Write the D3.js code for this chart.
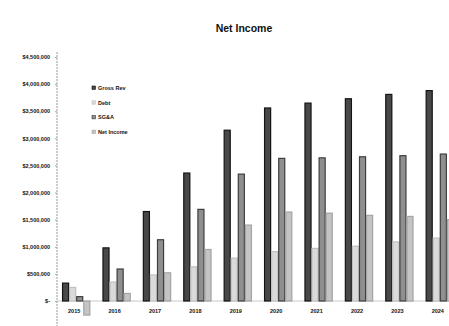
<!DOCTYPE html>
<html>
<head>
<meta charset="utf-8">
<script src="https://cdn.jsdelivr.net/npm/d3@7"></script>
<style>
  html, body { margin: 0; padding: 0; background: #fff; }
  svg { display: block; }
  text { font-family: Arial, "Liberation Sans", sans-serif; }
</style>
</head>
<body>
<svg id="chart" width="449" height="326"></svg>
<script>
// Fiscal years on the category axis
const years = ["2015", "2016", "2017", "2018", "2019", "2020", "2021", "2022", "2023", "2024"];

// Series, in dollars
const seriesNames = ["Gross Rev", "Debt", "SG&A", "Net Income"];
const grossRev  = [330000, 980000, 1650000, 2360000, 3150000, 3560000, 3650000, 3730000, 3810000, 3880000];
const debt      = [250000, 350000, 480000, 630000, 790000, 910000, 970000, 1010000, 1090000, 1160000];
const sga       = [80000, 590000, 1130000, 1690000, 2340000, 2630000, 2640000, 2660000, 2680000, 2710000];
const netIncome = [-260000, 140000, 520000, 950000, 1400000, 1640000, 1620000, 1580000, 1560000, 1500000];

// Y-axis tick values
const yTicks = [0, 500000, 1000000, 1500000, 2000000, 2500000, 3000000, 3500000, 4000000, 4500000];

const seriesValues = [grossRev, debt, sga, netIncome];
const fills   = ["#484848", "#dadada", "#8f8f8f", "#c4c4c4"];
const strokes = ["#141414", "#c0c0c0", "#3e3e3e", "#a4a4a4"];

const svg = d3.select("#chart");

const x = d3.scaleBand().domain(years).range([56, 460]).paddingInner(0.3).paddingOuter(0.15);
const xs = d3.scaleBand().domain(d3.range(seriesNames.length)).range([0, x.bandwidth()]).padding(0);
const y = d3.scaleLinear().domain([0, 4500000]).range([301, 57]);

// Title
svg.append("text")
  .attr("x", 244).attr("y", 32)
  .attr("text-anchor", "middle")
  .attr("font-size", 10.5).attr("font-weight", "bold")
  .attr("fill", "#111")
  .text("Net Income");

// Y axis
const fmt = v => v === 0 ? "$-" : "$" + d3.format(",")(v);
const yAxis = svg.append("g")
  .attr("transform", "translate(57,0)")
  .call(d3.axisLeft(y).tickValues(yTicks).tickFormat(fmt).tickSize(2).tickPadding(5));
yAxis.select(".domain").remove();
yAxis.selectAll(".tick line").attr("stroke", "#aaa");
yAxis.selectAll(".tick text")
  .attr("font-size", 5.5).attr("font-weight", "bold").attr("fill", "#111");
svg.append("line")
  .attr("x1", 57).attr("x2", 57).attr("y1", 52).attr("y2", 326)
  .attr("stroke", "#999").attr("stroke-width", 1).attr("stroke-dasharray", "2,1");

// Baseline
svg.append("line")
  .attr("x1", 57).attr("x2", 449).attr("y1", y(0)).attr("y2", y(0))
  .attr("stroke", "#bbb").attr("stroke-width", 0.8);

// Bars
const rows = years.map((yr, i) => ({ yr, vals: seriesValues.map(s => s[i]) }));
const groups = svg.append("g").selectAll("g").data(rows).join("g")
  .attr("transform", d => `translate(${x(d.yr)},0)`);
groups.selectAll("rect")
  .data(d => d.vals.map((v, k) => ({ v, k })))
  .join("rect")
  .attr("x", d => xs(d.k) + 0.5)
  .attr("width", xs.bandwidth() - 1)
  .attr("y", d => y(Math.max(0, d.v)))
  .attr("height", d => Math.abs(y(d.v) - y(0)))
  .attr("fill", d => fills[d.k])
  .attr("stroke", d => strokes[d.k])
  .attr("stroke-width", 1.2);

// Category labels
svg.append("g").selectAll("text").data(years).join("text")
  .attr("x", d => x(d) + x.bandwidth() / 2 - 2)
  .attr("y", 313)
  .attr("text-anchor", "middle")
  .attr("font-size", 5.5).attr("font-weight", "bold").attr("fill", "#111")
  .text(d => d);

// Legend
const legend = svg.append("g").selectAll("g").data(seriesNames).join("g")
  .attr("transform", (d, i) => `translate(92,${88 + i * 14.7})`);
legend.append("rect")
  .attr("x", 0).attr("y", -2).attr("width", 3.5).attr("height", 3.5)
  .attr("fill", (d, i) => fills[i]).attr("stroke", (d, i) => strokes[i]).attr("stroke-width", 0.6);
legend.append("text")
  .attr("x", 6).attr("y", 1.8)
  .attr("font-size", 5.5).attr("font-weight", "bold").attr("fill", "#111")
  .text(d => d);
</script>
</body>
</html>
